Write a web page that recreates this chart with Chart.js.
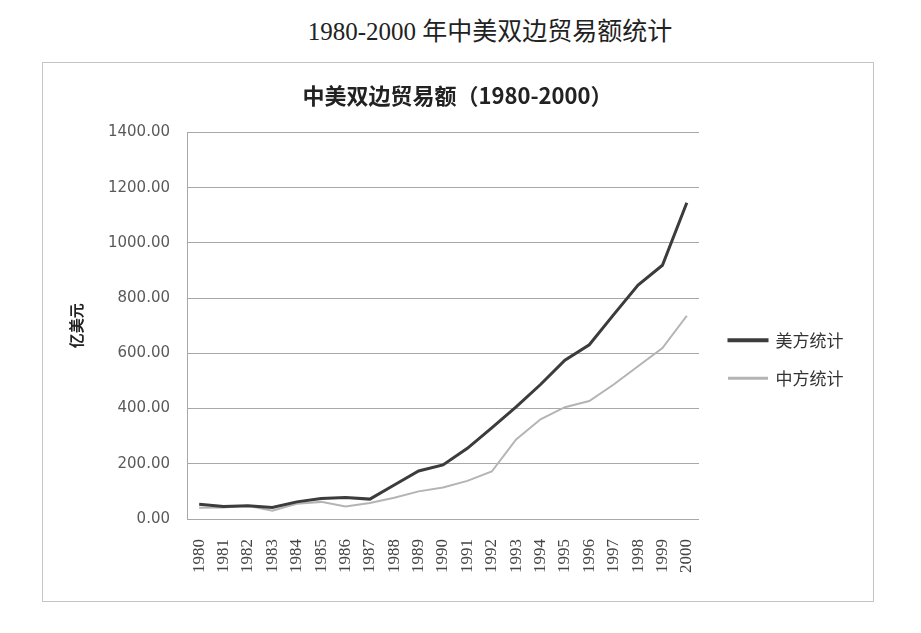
<!DOCTYPE html>
<html>
<head>
<meta charset="utf-8">
<script src="https://cdn.jsdelivr.net/npm/chart.js@4"></script>
<style>
  body { margin: 0; background: #fff; width: 921px; height: 633px; position: relative; }
  #pageTitle {
    position: absolute; left: 0; top: 11px; width: 980px; text-align: center;
    font-family: "Liberation Serif", "Noto Sans CJK SC", serif; font-size: 25px; color: #222;
  }
  #box {
    position: absolute; left: 42px; top: 62px; width: 830px; height: 538px;
    border: 1px solid #c4c4c4;
  }
</style>
</head>
<body>
<div id="pageTitle">1980-2000 年中美双边贸易额统计</div>
<div id="box"><canvas id="myChart" width="830" height="538"></canvas></div>
<script>
  // 数据
  var years = ['1980','1981','1982','1983','1984','1985','1986','1987','1988','1989','1990',
               '1991','1992','1993','1994','1995','1996','1997','1998','1999','2000'];
  var usStats = [53, 45, 48, 42, 62, 74, 78, 72, 123, 174, 196,
                 256, 330, 406, 487, 575, 631, 740, 847, 919, 1145];
  var cnStats = [41, 42, 48, 30, 55, 62, 45, 58, 77, 100, 114,
                 138, 172, 288, 361, 405, 427, 487, 553, 619, 736];
  var yTicks = [0, 200, 400, 600, 800, 1000, 1200, 1400];

  var data = {
    labels: years,
    datasets: [{
      label: '美方统计',
      data: usStats,
      borderColor: '#3c3c3c',
      backgroundColor: '#3c3c3c',
      borderWidth: 3,
      pointRadius: 0,
      tension: 0
    }, {
      label: '中方统计',
      data: cnStats,
      borderColor: '#b4b4b4',
      backgroundColor: '#b4b4b4',
      borderWidth: 2,
      pointRadius: 0,
      tension: 0
    }]
  };

  var options = {
    responsive: false,
    animation: false,
    layout: { padding: { left: 24, right: 25, top: 0, bottom: 0 } },
    plugins: {
      title: {
        display: true,
        text: '中美双边贸易额（1980-2000）',
        font: { family: '"Noto Sans CJK SC"', size: 22, weight: 'bold' },
        color: '#222',
        padding: { top: 19, bottom: 24 }
      },
      legend: {
        position: 'right',
        maxWidth: 140,
        // 空标题只用来把图例往下推
        title: { display: true, text: ' ', font: { size: 12 }, padding: 20 },
        labels: {
          boxWidth: 38,
          boxHeight: 1,
          padding: 21,
          color: '#333',
          font: { family: '"Noto Sans CJK SC"', size: 17 }
        }
      },
      tooltip: { enabled: false }
    },
    scales: {
      x: {
        offset: true,
        grid: { display: false },
        border: { display: false },
        ticks: {
          autoSkip: false,
          minRotation: 90,
          maxRotation: 90,
          padding: 12,
          color: '#444',
          font: { family: '"Liberation Serif"', size: 17 }
        },
        afterFit: function (s) { s.height = 82; }
      },
      y: {
        min: 0,
        max: 1400,
        afterBuildTicks: function (s) { s.ticks = yTicks.map(function (v) { return { value: v }; }); },
        grid: { color: '#a8a8a8', drawTicks: false },
        border: { display: true, color: '#a8a8a8' },
        ticks: {
          padding: 17,
          color: '#5a5a5a',
          font: { family: '"DejaVu Sans"', size: 15 },
          callback: function (v) { return Number(v).toFixed(2); }
        },
        title: {
          display: true,
          text: '亿美元',
          color: '#222',
          font: { family: '"Noto Sans CJK SC"', size: 15, weight: 'bold' },
          padding: 0
        },
        afterFit: function (s) { s.width = 120; }
      },
      // 图表和图例之间的空隙
      gap: {
        position: 'right',
        grid: { display: false },
        border: { display: false },
        ticks: { display: false },
        afterFit: function (s) { s.width = 9; }
      }
    }
  };

  var ctx = document.getElementById('myChart').getContext('2d');
  var myChart = new Chart(ctx, {
    type: 'line',
    data: data,
    options: options
  });
</script>
</body>
</html>
